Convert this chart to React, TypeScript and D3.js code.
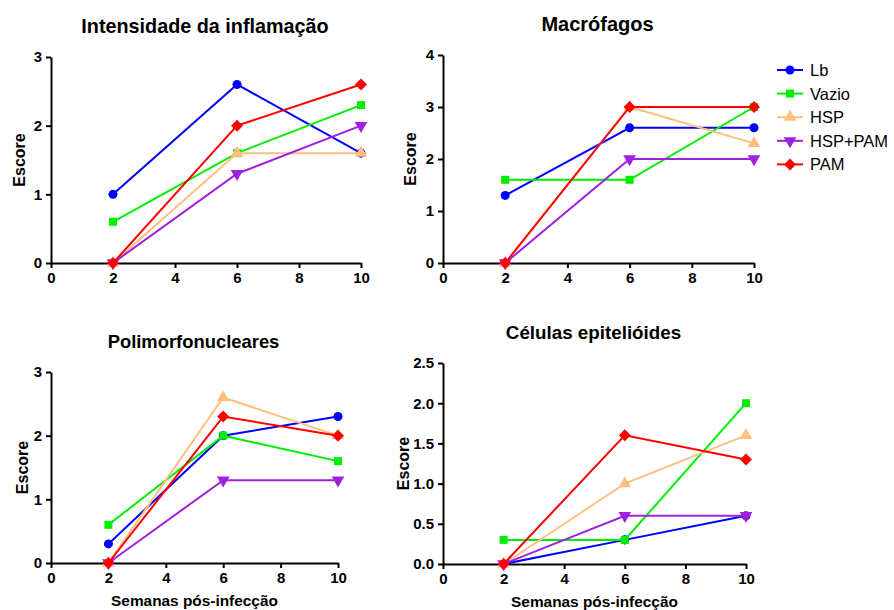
import React, { useEffect, useRef } from "react";
import * as d3 from "d3";

// weeks post-infection
const weeks = [2, 6, 10];
const groups = ["Lb", "Vazio", "HSP", "HSP+PAM", "PAM"];
const colors = ["#0000ff", "#00ee00", "#ffbf80", "#a020e0", "#ff0000"];
const markers = ["circle", "square", "triangle", "triangleDown", "diamond"];

// Intensidade da inflamação
const inflamLb = [1.0, 2.6, 1.6];
const inflamVazio = [0.6, 1.6, 2.3];
const inflamHSP = [0.0, 1.6, 1.6];
const inflamHSPPAM = [0.0, 1.3, 2.0];
const inflamPAM = [0.0, 2.0, 2.6];

// Macrófagos
const macroLb = [1.3, 2.6, 2.6];
const macroVazio = [1.6, 1.6, 3.0];
const macroHSP = [0.0, 3.0, 2.3];
const macroHSPPAM = [0.0, 2.0, 2.0];
const macroPAM = [0.0, 3.0, 3.0];

// Polimorfonucleares
const polyLb = [0.3, 2.0, 2.3];
const polyVazio = [0.6, 2.0, 1.6];
const polyHSP = [0.0, 2.6, 2.0];
const polyHSPPAM = [0.0, 1.3, 1.3];
const polyPAM = [0.0, 2.3, 2.0];

// Células epitelióides
const epiLb = [0.0, 0.3, 0.6];
const epiVazio = [0.3, 0.3, 2.0];
const epiHSP = [0.0, 1.0, 1.6];
const epiHSPPAM = [0.0, 0.6, 0.6];
const epiPAM = [0.0, 1.6, 1.3];

const xTicks = [0, 2, 4, 6, 8, 10];

interface Panel {
  title: string;
  series: number[][];
  yMax: number;
  yTicks: number[];
  yFormat: string;
  box: { left: number; right: number; top: number; bottom: number };
  titleY: number;
  titleSize: number;
  showXLabel: boolean;
  yLabelX: number;
}

const panels: Panel[] = [
  {
    title: "Intensidade da inflamação",
    series: [inflamLb, inflamVazio, inflamHSP, inflamHSPPAM, inflamPAM],
    yMax: 3,
    yTicks: [0, 1, 2, 3],
    yFormat: "d",
    box: { left: 51, right: 361, top: 57, bottom: 263 },
    titleY: 33,
    titleSize: 19.8,
    showXLabel: false,
    yLabelX: 25,
  },
  {
    title: "Macrófagos",
    series: [macroLb, macroVazio, macroHSP, macroHSPPAM, macroPAM],
    yMax: 4,
    yTicks: [0, 1, 2, 3, 4],
    yFormat: "d",
    box: { left: 443, right: 754, top: 55, bottom: 263 },
    titleY: 31,
    titleSize: 20,
    showXLabel: false,
    yLabelX: 416,
  },
  {
    title: "Polimorfonucleares",
    series: [polyLb, polyVazio, polyHSP, polyHSPPAM, polyPAM],
    yMax: 3,
    yTicks: [0, 1, 2, 3],
    yFormat: "d",
    box: { left: 51, right: 338, top: 372, bottom: 563 },
    titleY: 348,
    titleSize: 18.4,
    showXLabel: true,
    yLabelX: 28,
  },
  {
    title: "Células epitelióides",
    series: [epiLb, epiVazio, epiHSP, epiHSPPAM, epiPAM],
    yMax: 2.5,
    yTicks: [0, 0.5, 1, 1.5, 2, 2.5],
    yFormat: ".1f",
    box: { left: 443, right: 746, top: 363, bottom: 564 },
    titleY: 339,
    titleSize: 18.8,
    showXLabel: true,
    yLabelX: 409,
  },
];

const symbolFor = (m: string) => {
  if (m === "circle") return d3.symbol().type(d3.symbolCircle).size(64)();
  if (m === "square" || m === "diamond") return d3.symbol().type(d3.symbolSquare).size(m === "diamond" ? 72 : 64)();
  return d3.symbol().type(d3.symbolTriangle).size(70)();
};

const rotFor = (m: string) =>
  m === "triangleDown" ? " rotate(180)" : m === "diamond" ? " rotate(45)" : "";

const App: React.FC = () => {
  const svgRef = useRef<SVGSVGElement>(null);

  useEffect(() => {
    if (!svgRef.current) return;
    const svg = d3.select(svgRef.current);
    svg.selectAll("*").remove();

    const font = "Arial, 'Liberation Sans', sans-serif";

    panels.forEach((p) => {
      const { left, right, top, bottom } = p.box;
      const x = d3.scaleLinear().domain([0, 10]).range([left, right]);
      const y = d3.scaleLinear().domain([0, p.yMax]).range([bottom, top]);

      const g = svg.append("g");

      // axes
      const xAxis = g
        .append("g")
        .attr("transform", `translate(0,${bottom})`)
        .call(d3.axisBottom(x).tickValues(xTicks).tickSize(5).tickSizeOuter(0).tickPadding(4));
      const yAxis = g
        .append("g")
        .attr("transform", `translate(${left},0)`)
        .call(
          d3
            .axisLeft(y)
            .tickValues(p.yTicks)
            .tickFormat(d3.format(p.yFormat) as any)
            .tickSize(5)
            .tickSizeOuter(0)
            .tickPadding(4)
        );
      [xAxis, yAxis].forEach((a) => {
        a.select(".domain").attr("stroke", "#000").attr("stroke-width", 2);
        a.selectAll(".tick line").attr("stroke", "#000").attr("stroke-width", 2);
        a.selectAll(".tick text")
          .attr("fill", "#000")
          .style("font-family", font)
          .style("font-weight", "bold")
          .style("font-size", "15px");
      });

      // series
      p.series.forEach((vals, i) => {
        const pts = weeks.map((w, j) => [w, vals[j]] as [number, number]);
        const line = d3
          .line<[number, number]>()
          .x((d) => x(d[0]))
          .y((d) => y(d[1]));
        g.append("path")
          .datum(pts)
          .attr("fill", "none")
          .attr("stroke", colors[i])
          .attr("stroke-width", 2)
          .attr("d", line);
        g.selectAll(`.m${i}`)
          .data(pts)
          .enter()
          .append("path")
          .attr("d", symbolFor(markers[i]))
          .attr("fill", colors[i])
          .attr("transform", (d) => `translate(${x(d[0])},${y(d[1])})${rotFor(markers[i])}`);
      });

      // title
      g.append("text")
        .attr("x", (left + right) / 2 - 1)
        .attr("y", p.titleY)
        .attr("text-anchor", "middle")
        .style("font-family", font)
        .style("font-weight", "bold")
        .style("font-size", `${p.titleSize}px`)
        .text(p.title);

      // y label
      g.append("text")
        .attr("transform", `translate(${p.yLabelX},${(top + bottom) / 2}) rotate(-90)`)
        .attr("text-anchor", "middle")
        .style("font-family", font)
        .style("font-weight", "bold")
        .style("font-size", "16px")
        .text("Escore");

      if (p.showXLabel) {
        g.append("text")
          .attr("x", (left + right) / 2)
          .attr("y", bottom + 43)
          .attr("text-anchor", "middle")
          .style("font-family", font)
          .style("font-weight", "bold")
          .style("font-size", "15.4px")
          .text("Semanas pós-infecção");
      }
    });

    // legend
    const legend = svg.append("g").attr("transform", "translate(777,70)");
    groups.forEach((name, i) => {
      const row = legend.append("g").attr("transform", `translate(0,${i * 23.6})`);
      row
        .append("line")
        .attr("x1", 0)
        .attr("x2", 26)
        .attr("stroke", colors[i])
        .attr("stroke-width", 2);
      row
        .append("path")
        .attr("d", symbolFor(markers[i]))
        .attr("fill", colors[i])
        .attr("transform", `translate(13,0)${rotFor(markers[i])}`);
      row
        .append("text")
        .attr("x", 33)
        .attr("y", 6)
        .style("font-family", font)
        .style("font-size", "16.5px")
        .text(name);
    });
  }, []);

  return (
    <svg
      ref={svgRef}
      width={894}
      height={610}
      style={{ position: "absolute", left: 0, top: 0, background: "#fff" }}
    />
  );
};

export default App;
